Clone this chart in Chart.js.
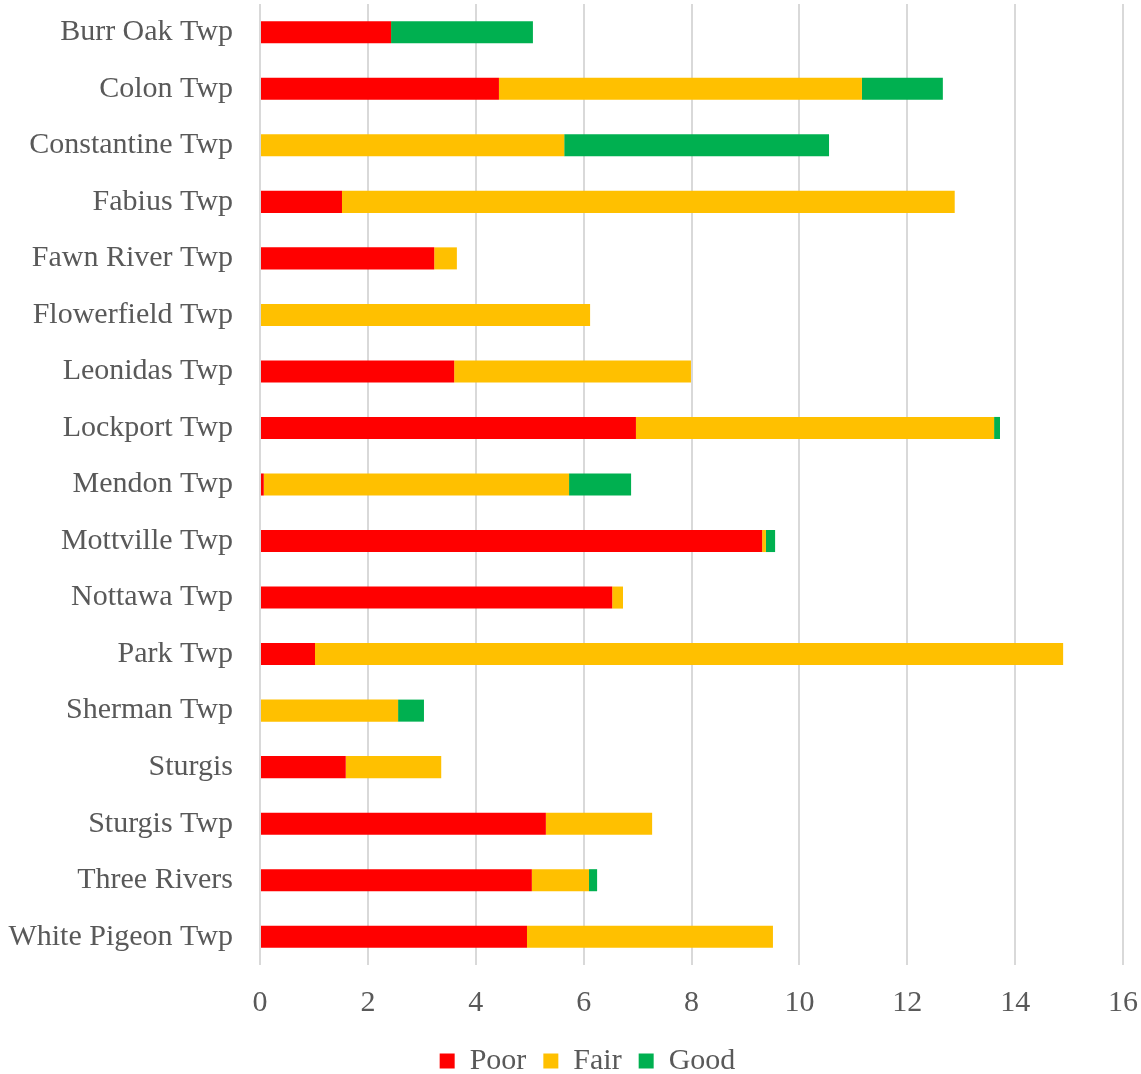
<!DOCTYPE html>
<html>
<head>
<meta charset="utf-8">
<script src="https://cdn.jsdelivr.net/npm/chart.js@4/dist/chart.umd.min.js"></script>
<style>
html,body{margin:0;padding:0;background:#fff;}
#wrap{width:1141px;height:1074px;position:relative;}
</style>
</head>
<body>
<div id="wrap"><canvas id="c"></canvas></div>
<script>
const categories = ["Burr Oak Twp","Colon Twp","Constantine Twp","Fabius Twp","Fawn River Twp","Flowerfield Twp","Leonidas Twp","Lockport Twp","Mendon Twp","Mottville Twp","Nottawa Twp","Park Twp","Sherman Twp","Sturgis","Sturgis Twp","Three Rivers","White Pigeon Twp"];
const poor = [2.43,4.43,0,1.52,3.23,0,3.60,6.97,0.07,9.31,6.53,1.02,0,1.59,5.30,5.04,4.95];
const fair = [0,6.73,5.64,11.36,0.42,6.12,4.39,6.64,5.66,0.07,0.20,13.87,2.56,1.77,1.97,1.06,4.56];
const good = [2.63,1.50,4.91,0,0,0,0,0.11,1.15,0.17,0,0,0.48,0,0,0.15,0];
const seriesNames = ["Poor","Fair","Good"];
const xMin = 0, xMax = 16, xStep = 2;

const FONT = "'Liberation Serif', serif";
const TXT = "#595959";

const legendShift = {
  id: 'legendShift',
  afterLayout(chart) {
    const lg = chart.legend;
    if (lg) { lg.left += 26; lg.right += 26; }
  }
};

new Chart(document.getElementById('c'), {
  type: 'bar',
  data: {
    labels: categories,
    datasets: [
      {label: seriesNames[0], data: poor, backgroundColor: '#FF0000'},
      {label: seriesNames[1], data: fair, backgroundColor: '#FFC000'},
      {label: seriesNames[2], data: good, backgroundColor: '#00B050'}
    ]
  },
  plugins: [legendShift],
  options: {
    indexAxis: 'y',
    responsive: true,
    maintainAspectRatio: false,
    animation: false,
    datasets: {bar: {categoryPercentage: 1, barPercentage: 0.39, borderWidth: 0}},
    layout: {padding: {top: 4, right: 18, bottom: -12, left: 0}},
    scales: {
      x: {
        stacked: true,
        min: xMin, max: xMax,
        ticks: {stepSize: xStep, color: TXT, font: {family: FONT, size: 30}, padding: 20},
        grid: {color: '#D9D9D9', lineWidth: 2, drawTicks: false},
        border: {display: false},
        afterFit: s => { s.height = 64; s.paddingLeft = 0; s.paddingRight = 0; }
      },
      y: {
        stacked: true,
        ticks: {color: TXT, font: {family: FONT, size: 30}, padding: 27, autoSkip: false},
        grid: {display: false, drawTicks: false},
        border: {display: false},
        afterFit: s => { s.width = 260; s.paddingTop = 0; s.paddingBottom = 0; }
      }
    },
    plugins: {
      legend: {
        position: 'bottom',
        labels: {color: TXT, font: {family: FONT, size: 30}, boxWidth: 15, boxHeight: 15, padding: 17}
      },
      tooltip: {enabled: false}
    }
  }
});
</script>
</body>
</html>
